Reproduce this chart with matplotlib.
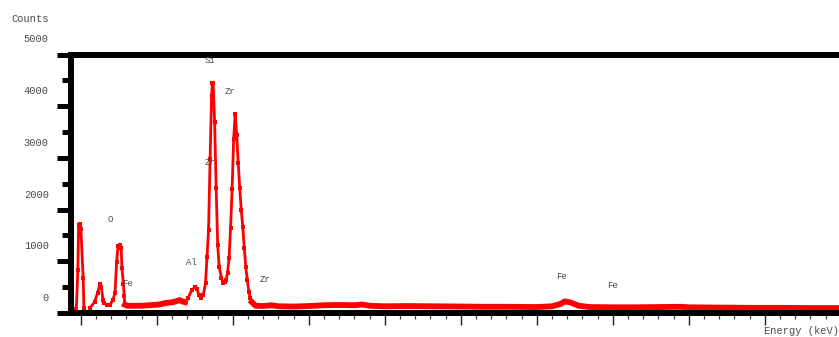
import numpy as np
import matplotlib
matplotlib.use("Agg")
import matplotlib.pyplot as plt
import matplotlib.transforms as mtransforms
from matplotlib.ticker import MultipleLocator

# EDS spectrum
energy_kev = [-0.09, -0.08, -0.06, -0.04, -0.03, -0.01, 0.00, 0.03, 0.04, 0.06, 0.10,
              0.12, 0.18, 0.22, 0.25, 0.27, 0.29, 0.31, 0.34, 0.38, 0.42, 0.45, 0.47,
              0.49, 0.51, 0.53, 0.54, 0.56, 0.57, 0.58, 0.61, 0.70, 0.80, 0.90, 1.00,
              1.05, 1.10, 1.15, 1.21, 1.26, 1.30, 1.34, 1.37, 1.41, 1.46, 1.50, 1.53,
              1.55, 1.58, 1.61, 1.64, 1.66, 1.68, 1.70, 1.72, 1.73, 1.74, 1.76, 1.78,
              1.80, 1.82, 1.85, 1.87, 1.89, 1.91, 1.93, 1.95, 1.97, 1.99, 2.01, 2.03,
              2.05, 2.07, 2.09, 2.11, 2.13, 2.15, 2.17, 2.19, 2.21, 2.23, 2.25, 2.30,
              2.39, 2.51, 2.60, 2.80, 3.00, 3.20, 3.40, 3.60, 3.70, 3.80, 4.00, 4.30,
              4.60, 5.00, 5.30, 5.60, 6.00, 6.20, 6.30, 6.37, 6.45, 6.55, 6.70, 7.00,
              7.30, 7.60, 7.90, 8.00, 8.40, 8.80, 9.20, 9.60, 10.10]
counts = [40, 60, 80, 830, 1700, 1720, 1630, 680, 100, 10, 20,
          100, 210, 390, 560, 500, 260, 190, 150, 150, 250, 390, 990,
          1300, 1320, 1260, 870, 560, 330, 160, 140, 140, 140, 150, 160,
          170, 190, 200, 210, 230, 250, 220, 210, 290, 445, 500, 465,
          350, 290, 350, 580, 1090, 1610, 2970, 4190, 4440, 4450, 3690, 2420,
          1320, 890, 680, 580, 600, 640, 775, 1070, 1650, 2390, 3360, 3840,
          3450, 2910, 2420, 2000, 1670, 1260, 890, 640, 410, 290, 210, 140,
          135, 150, 130, 125, 135, 150, 155, 150, 165, 140, 130, 135,
          130, 125, 120, 120, 115, 130, 170, 225, 200, 140, 115, 110,
          110, 115, 120, 110, 105, 100, 100, 95, 95]

peak_names = ["O", "Fe", "Al", "Si", "Zr", "Zr", "Zr", "Fe", "Fe"]
peak_label_kev = [0.39, 0.62, 1.45, 1.70, 1.96, 1.70, 2.42, 6.33, 6.99]
peak_label_counts = [1800, 580, 970, 4890, 4290, 2910, 640, 700, 540]

ytick_values = [0, 1000, 2000, 3000, 4000, 5000]

fonts = ["Liberation Mono", "DejaVu Sans Mono"]
txt_color = "#4a4a4a"

fig = plt.figure(figsize=(8.39, 3.37), dpi=100)
ax = fig.add_axes([71 / 839, 24 / 337, 779 / 839, 258.5 / 337])

e = np.array(energy_kev)
c = np.array(counts, dtype=float)
ax.plot(e, c, color="red", lw=2.0, marker="s", ms=2.8, mew=0, zorder=2)
# the noisy flat stretches read as a thicker band
flat = ((e >= 0.58) & (e <= 1.40)) | (e >= 2.25)
ax.plot(e, np.where(flat, c, np.nan), color="red", lw=4.2, zorder=2)

ax.set_xlim(-0.13, 10.12)
ax.set_ylim(0, 5000)

for side in ["left", "bottom", "top"]:
    ax.spines[side].set_linewidth(4.3)
    ax.spines[side].set_color("black")
ax.spines["right"].set_visible(False)

ax.xaxis.set_major_locator(MultipleLocator(1))
ax.xaxis.set_minor_locator(MultipleLocator(0.2))
ax.yaxis.set_major_locator(MultipleLocator(1000))
ax.yaxis.set_minor_locator(MultipleLocator(500))

ax.tick_params(axis="x", which="major", direction="out", length=8.6, width=1.0,
               color="#222222", labelbottom=False)
ax.tick_params(axis="x", which="minor", direction="out", length=4.5, width=0.9,
               color="#444444")
ax.tick_params(axis="y", which="major", direction="out", length=10, width=3.6,
               color="black", pad=6, labelsize=7.5, labelcolor=txt_color)
ax.tick_params(axis="y", which="minor", direction="out", length=6.5, width=3.6,
               color="black")

ax.set_yticks(ytick_values)
ax.set_yticklabels([str(v) for v in ytick_values], fontfamily=fonts)
shift = mtransforms.ScaledTranslation(0, 0.16, fig.dpi_scale_trans)
for lab in ax.get_yticklabels():
    lab.set_transform(lab.get_transform() + shift)

for name, x, y in zip(peak_names, peak_label_kev, peak_label_counts):
    ax.text(x, y, name, ha="center", va="center", fontsize=6.5,
            color=txt_color, family=fonts)

fig.text(30 / 839, 1 - 19 / 337, "Counts", ha="center", va="center",
         fontsize=7.5, color=txt_color, family=fonts)
fig.text(1.0, 1 - 331 / 337, "Energy (keV)", ha="right", va="center",
         fontsize=7.5, color=txt_color, family=fonts)

fig.savefig("out.png", dpi=100)
